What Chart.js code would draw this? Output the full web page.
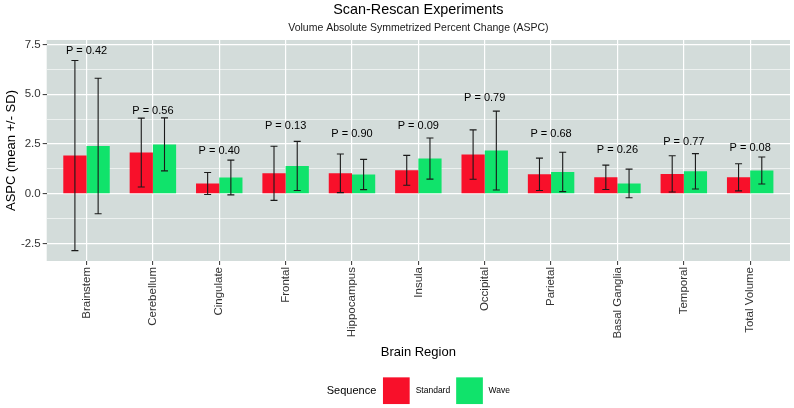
<!DOCTYPE html>
<html>
<head>
<meta charset="utf-8">
<title>Scan-Rescan Experiments</title>
<script src="https://cdn.jsdelivr.net/npm/chart.js@4.4.1/dist/chart.umd.min.js"></script>
<style>
  html, body { margin: 0; padding: 0; background: #fff; }
  #aspcChart { display: block; }
</style>
</head>
<body>
<canvas id="aspcChart" width="794" height="408"></canvas>
<script>
// valores
const regions = ['Brainstem', 'Cerebellum', 'Cingulate', 'Frontal', 'Hippocampus', 'Insula',
  'Occipital', 'Parietal', 'Basal Ganglia', 'Temporal', 'Total Volume'];
const standardMean = [1.92, 2.07, 0.52, 1.03, 1.03, 1.18, 1.97, 0.98, 0.83, 1.00, 0.83];
const standardSD = [4.77, 1.73, 0.55, 1.36, 0.97, 0.75, 1.24, 0.81, 0.61, 0.91, 0.68];
const waveMean = [2.40, 2.48, 0.82, 1.40, 0.97, 1.77, 2.17, 1.10, 0.52, 1.13, 1.17];
const waveSD = [3.40, 1.33, 0.87, 1.23, 0.76, 1.03, 1.98, 0.99, 0.72, 0.89, 0.68];
const pValues = ['0.42', '0.56', '0.40', '0.13', '0.90', '0.09', '0.79', '0.68', '0.26', '0.77', '0.08'];
const pLabelValue = [7.18, 4.17, 2.17, 3.40, 3.00, 3.40, 4.80, 3.00, 2.18, 2.60, 2.30];
const yTicks = [-2.5, -1.25, 0, 1.25, 2.5, 3.75, 5, 6.25, 7.5];

const FONT = "'Liberation Sans', Arial, Helvetica, sans-serif";
const RED = '#f8102a';
const GREEN = '#10e36b';
const PANEL_BG = '#d3dcda';

function isMajor(v) {
  return Math.abs(v / 2.5 - Math.round(v / 2.5)) < 1e-6;
}

const panelBackground = {
  id: 'panelBackground',
  beforeDraw(chart) {
    const { ctx, chartArea: a } = chart;
    ctx.save();
    ctx.fillStyle = PANEL_BG;
    ctx.fillRect(a.left, a.top, a.width, a.height);
    ctx.restore();
  }
};

const errorBars = {
  id: 'errorBars',
  afterDatasetsDraw(chart) {
    const { ctx, scales: { y } } = chart;
    const sds = [standardSD, waveSD];
    ctx.save();
    ctx.strokeStyle = '#1a1a1a';
    ctx.lineWidth = 1.1;
    chart.data.datasets.forEach((ds, di) => {
      chart.getDatasetMeta(di).data.forEach((bar, i) => {
        const mean = ds.data[i].y;
        const top = y.getPixelForValue(mean + sds[di][i]);
        const bottom = y.getPixelForValue(mean - sds[di][i]);
        ctx.beginPath();
        ctx.moveTo(bar.x, top); ctx.lineTo(bar.x, bottom);
        ctx.moveTo(bar.x - 3.5, top); ctx.lineTo(bar.x + 3.5, top);
        ctx.moveTo(bar.x - 3.5, bottom); ctx.lineTo(bar.x + 3.5, bottom);
        ctx.stroke();
      });
    });
    ctx.restore();
  }
};

const pLabels = {
  id: 'pLabels',
  afterDatasetsDraw(chart) {
    const { ctx, scales: { x, y } } = chart;
    ctx.save();
    ctx.font = '11px ' + FONT;
    ctx.fillStyle = '#000';
    ctx.textAlign = 'center';
    ctx.textBaseline = 'middle';
    pValues.forEach((p, i) => {
      ctx.fillText('P = ' + p, x.getPixelForValue(i), y.getPixelForValue(pLabelValue[i]));
    });
    ctx.restore();
  }
};

// legenda no estilo ggplot, centrada sob o painel
const sequenceLegend = {
  id: 'sequenceLegend',
  afterDraw(chart) {
    const { ctx, chartArea: a } = chart;
    const cy = chart.height - 17.3;
    const key = 26.7;
    ctx.save();
    ctx.textBaseline = 'middle';
    ctx.textAlign = 'left';
    ctx.font = '11px ' + FONT;
    const titleW = ctx.measureText('Sequence').width;
    ctx.font = '8.5px ' + FONT;
    const labelW = chart.data.datasets.map(ds => ctx.measureText(ds.label).width);
    const total = titleW + 6.7 + key + 6 + labelW[0] + 6 + key + 5.7 + labelW[1];
    let x = (a.left + a.right) / 2 - total / 2;
    ctx.fillStyle = '#000';
    ctx.font = '11px ' + FONT;
    ctx.fillText('Sequence', x, cy);
    x += titleW + 6.7;
    chart.data.datasets.forEach((ds, i) => {
      ctx.fillStyle = ds.backgroundColor;
      ctx.fillRect(x, cy - key / 2, key, key);
      x += key + (i === 0 ? 6 : 5.7);
      ctx.fillStyle = '#000';
      ctx.font = '8.5px ' + FONT;
      ctx.fillText(ds.label, x, cy);
      x += labelW[i] + 6;
    });
    ctx.restore();
  }
};

const ctx = document.getElementById('aspcChart').getContext('2d');
const aspcChart = new Chart(ctx, {
  type: 'bar',
  data: {
    datasets: [{
      label: 'Standard',
      data: standardMean.map((v, i) => ({ x: i, y: v })),
      backgroundColor: RED,
      borderWidth: 0
    }, {
      label: 'Wave',
      data: waveMean.map((v, i) => ({ x: i, y: v })),
      backgroundColor: GREEN,
      borderWidth: 0
    }]
  },
  options: {
    responsive: false,
    animation: false,
    devicePixelRatio: 1,
    categoryPercentage: 0.7,
    barPercentage: 1.0,
    layout: { padding: { left: 0, right: 4, top: 0, bottom: 40 } },
    scales: {
      x: {
        type: 'linear',
        min: -0.6,
        max: 10.6,
        offset: false,
        afterBuildTicks: scale => { scale.ticks = regions.map((r, i) => ({ value: i })); },
        afterFit: scale => { scale.height = 107; },
        border: { display: false },
        grid: { offset: false, color: '#ffffff', lineWidth: 1.2, tickColor: '#333333', tickLength: 4, tickWidth: 1 },
        ticks: {
          autoSkip: false,
          minRotation: 90,
          maxRotation: 90,
          padding: 2,
          color: '#333333',
          font: { family: FONT, size: 11.5 },
          callback: v => regions[v]
        },
        title: {
          display: true,
          text: 'Brain Region',
          color: '#000',
          font: { family: FONT, size: 13 },
          padding: { top: 4, bottom: 7.9 }
        }
      },
      y: {
        min: -3.37,
        max: 7.72,
        afterBuildTicks: scale => { scale.ticks = yTicks.map(v => ({ value: v })); },
        afterFit: scale => { scale.width = 46.7; },
        border: { display: false },
        grid: {
          color: '#ffffff',
          lineWidth: c => (c.tick && isMajor(c.tick.value) ? 1.2 : 0.6),
          tickColor: c => (c.tick && isMajor(c.tick.value) ? '#333333' : 'rgba(0,0,0,0)'),
          tickLength: 4,
          tickWidth: 1
        },
        ticks: {
          padding: 2,
          color: '#333333',
          font: { family: FONT, size: 11.5 },
          callback: v => (isMajor(v) ? v.toFixed(1) : '')
        },
        title: {
          display: true,
          text: 'ASPC (mean +/- SD)',
          color: '#000',
          font: { family: FONT, size: 13 },
          padding: { top: 4, bottom: 0 }
        }
      }
    },
    plugins: {
      legend: { display: false },
      tooltip: { enabled: false },
      title: {
        display: true,
        fullSize: false,
        text: 'Scan-Rescan Experiments',
        color: '#000',
        font: { family: FONT, size: 14.4, weight: 'normal' },
        padding: { top: 1, bottom: 0 }
      },
      subtitle: {
        display: true,
        fullSize: false,
        text: 'Volume Absolute Symmetrized Percent Change (ASPC)',
        color: '#1a1a1a',
        font: { family: FONT, size: 10.5 },
        padding: { top: 3.1, bottom: 6 }
      }
    }
  },
  plugins: [panelBackground, errorBars, pLabels, sequenceLegend]
});
console.log('chartArea:', aspcChart.chartArea);
</script>
</body>
</html>
